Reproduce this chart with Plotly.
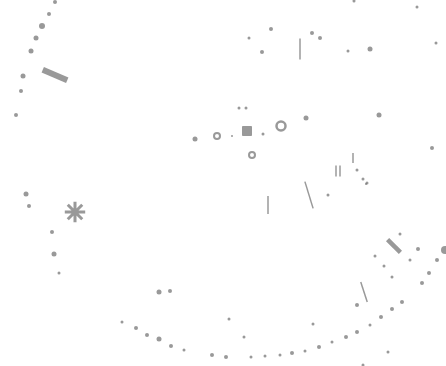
import plotly.graph_objects as go

# small dot marks (x, y)
dot_x = [55, 49, 42, 36, 31, 23, 21, 16, 26, 29, 52, 54, 59,
         122, 136, 147, 159, 171, 184, 212, 226, 251, 265, 280, 292, 305, 319, 332,
         346, 357, 370, 381, 392, 402, 422, 429, 437,
         195, 239, 246, 263, 232, 306, 379, 432, 271, 312, 320, 262, 249, 348, 370,
         436, 417, 354, 400, 418, 410, 375, 384, 392, 357, 229, 244, 313, 388, 363,
         366, 328, 357, 363, 367, 445, 159, 170]
dot_y = [2, 14, 26, 38, 51, 76, 91, 115, 194, 206, 232, 254, 273,
         322, 328, 335, 339, 346, 350, 355, 357, 357, 356, 355, 353, 351, 347, 342,
         337, 332, 325, 317, 309, 302, 283, 273, 260,
         139, 108, 108, 134, 136, 118, 115, 148, 29, 33, 38, 52, 38, 51, 49,
         43, 7, 1, 234, 249, 260, 256, 266, 277, 305, 319, 337, 324, 352, 365,
         184, 195, 170, 179, 183, 250, 292, 291]
dot_size = [4, 4, 6, 5, 5, 5, 4, 4, 5, 4, 4, 5, 3,
            3, 4, 4, 5, 4, 3, 4, 4, 3, 3, 3, 4, 3, 4, 3,
            4, 4, 3, 4, 4, 4, 4, 4, 4,
            5, 3, 3, 3, 2, 5, 5, 4, 4, 4, 4, 4, 3, 3, 5,
            3, 3, 3, 3, 4, 3, 3, 3, 3, 4, 3, 3, 3, 3, 3,
            2, 3, 3, 3, 3, 8, 5, 4]

# short stroke marks: centre, length, angle (deg, clockwise)
stroke_x = [300, 309, 268, 364, 394, 336, 340, 353, 55]
stroke_y = [49, 195, 205, 292, 246, 171, 171, 158, 75]
stroke_len = [15, 20, 13, 15, 13, 8, 8, 7, 19]
stroke_ang = [0, -17, 0, -18, -45, 0, 0, 0, 113]
stroke_w = [1.5, 1.5, 1.5, 1.5, 4.5, 1.5, 1.5, 1.5, 6]

# symbol marks
sym_x = [75, 247, 281, 252, 217]
sym_y = [212, 131, 126, 155, 136]
sym_kind = ["asterisk-open", "square", "circle-open", "circle-open", "circle-open"]
sym_size = [17, 9, 9, 6, 6]
sym_w = [3, 1, 2.5, 2, 2]

ink = "#6e6e6e"

fig = go.Figure()
fig.add_trace(go.Scatter(
    x=dot_x, y=dot_y, mode="markers",
    marker=dict(color=ink, size=dot_size, line=dict(width=0)),
    hoverinfo="skip"))
fig.add_trace(go.Scatter(
    x=stroke_x, y=stroke_y, mode="markers",
    marker=dict(symbol="line-ns", size=stroke_len, angle=stroke_ang,
                line=dict(color=ink, width=stroke_w)),
    hoverinfo="skip"))
fig.add_trace(go.Scatter(
    x=sym_x, y=sym_y, mode="markers",
    marker=dict(symbol=sym_kind, size=sym_size, color=ink,
                line=dict(color=ink, width=sym_w)),
    hoverinfo="skip"))

fig.update_layout(
    width=446, height=366,
    margin=dict(l=0, r=0, t=0, b=0),
    paper_bgcolor="white", plot_bgcolor="white",
    showlegend=False,
    xaxis=dict(range=[0, 446], visible=False, fixedrange=True),
    yaxis=dict(range=[366, 0], visible=False, fixedrange=True),
)
fig.write_html("out.html", config={"displayModeBar": False},
               post_script="document.body.style.margin='0';document.body.style.overflow='hidden';")
